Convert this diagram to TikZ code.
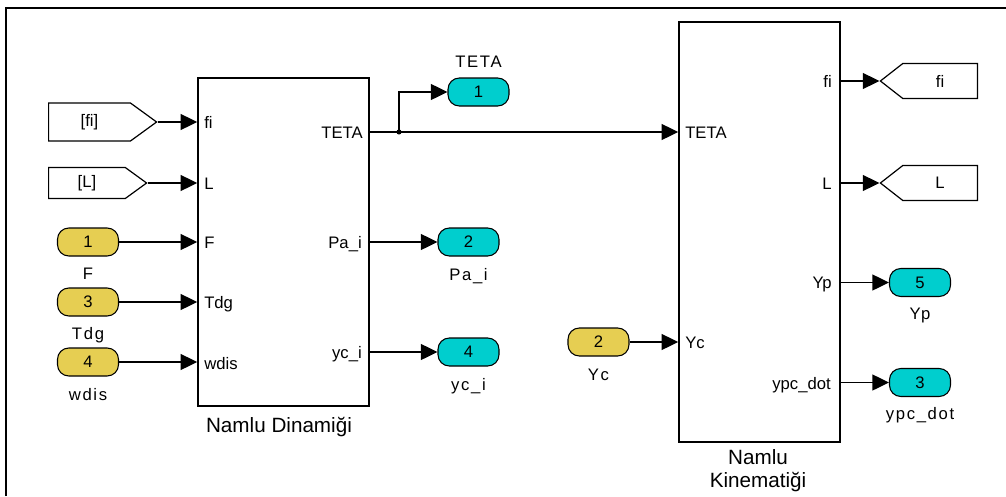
\documentclass[tikz,border=0pt]{standalone}
\usepackage{fontspec}
\setmainfont{Liberation Sans}
\usetikzlibrary{arrows.meta,shapes.symbols,calc}
\definecolor{inyellow}{RGB}{230,206,82}
\definecolor{outcyan}{RGB}{0,206,206}
\newcommand{\portfont}{\fontsize{12.5}{14}\selectfont}
\tikzset{
  blk/.style={draw, line width=1.2pt, inner sep=0pt},
  portlbl/.style={font=\portfont, inner sep=0pt},
  inport/.style={draw, line width=0.8pt, rounded corners=8.5pt, fill=inyellow,
    minimum width=45.75pt, minimum height=21pt, inner sep=0pt, font=\portfont},
  outport/.style={inport, fill=outcyan},
  fromtag/.style={draw, line width=0.9pt, shape=signal, signal to=east,
    signal pointer angle=72, inner sep=0pt, font=\portfont},
  gototag/.style={fromtag, signal to=west, signal pointer angle=76},
  wire/.style={line width=1.1pt, -{Triangle[length=12.5pt,width=12pt]}},
  tagname/.style={font=\portfont\addfontfeature{LetterSpace=10}, inner sep=0pt, anchor=base},
  title/.style={font=\fontsize{15.5}{17}\selectfont, inner sep=0pt, anchor=base},
}
\begin{document}
\begin{tikzpicture}[x=0.75pt, y=-0.75pt]
\useasboundingbox (0,0) rectangle (1006,496);
% frame
\draw[line width=1.8pt] (6,496) -- (6,8) -- (1006,8);

% subsystem blocks
\node[blk, minimum width=128.25pt, minimum height=246pt] (b1) at (283.5,242) {};
\node[blk, minimum width=120.75pt, minimum height=315pt] (b2) at (759.5,232) {};
\node[title] at (279,432) {Namlu Dinamiği};
\node[title] at (758,464) {Namlu};
\node[title] at (758,487) {Kinematiği};

% port names of the first block
\node[portlbl, anchor=base west] at (204,128) {fi};
\node[portlbl, anchor=base west] at (204,189) {L};
\node[portlbl, anchor=base west] at (204,248) {F};
\node[portlbl, anchor=base west] at (204,308) {Tdg};
\node[portlbl, anchor=base west] at (204,369) {wdis};
\node[portlbl, anchor=base east] at (363,138) {TETA};
\node[portlbl, anchor=base east] at (362,248) {Pa\_i};
\node[portlbl, anchor=base east] at (362,358) {yc\_i};

% port names of the second block
\node[portlbl, anchor=base west] at (685,138) {TETA};
\node[portlbl, anchor=base west] at (685,348) {Yc};
\node[portlbl, anchor=base east] at (832,87) {fi};
\node[portlbl, anchor=base east] at (832,189) {L};
\node[portlbl, anchor=base east] at (832,288) {Yp};
\node[portlbl, anchor=base east] at (831,389) {ypc\_dot};

% from / goto tags
\node[fromtag, anchor=west, minimum width=81pt, minimum height=28.5pt] (ffi) at (48,122) {[fi]};
\node[fromtag, anchor=west, minimum width=73.5pt, minimum height=23.25pt] (fL) at (48,183) {[L]};
\node[gototag, anchor=east, minimum width=72.75pt, minimum height=26.25pt] (gfi) at (978,81) {fi};
\node[gototag, anchor=east, minimum width=72.75pt, minimum height=26.25pt] (gL) at (978,183) {L};

% inports
\node[inport] (inF) at (88,242) {1};
\node[tagname] at (88,279) {F};
\node[inport] (inT) at (88,302) {3};
\node[tagname] at (88,339) {Tdg};
\node[inport] (inW) at (88,362) {4};
\node[tagname] at (88,400) {wdis};
\node[inport] (inY) at (598.5,342) {2};
\node[tagname] at (598.5,380) {Yc};

% outports
\node[outport] (oT) at (478.5,92) {1};
\node[tagname] at (478.5,67) {TETA};
\node[outport] (oP) at (468.5,242) {2};
\node[tagname] at (468.5,280) {Pa\_i};
\node[outport] (oY) at (468.5,352) {4};
\node[tagname] at (468.5,390) {yc\_i};
\node[outport] (oYp) at (920,282.5) {5};
\node[tagname] at (920,319) {Yp};
\node[outport] (oD) at (920,382.5) {3};
\node[tagname] at (920,419) {ypc\_dot};

% signals into the first block
\draw[wire] (ffi.east) -- (ffi.east -| b1.west);
\draw[wire] (fL.east) -- (fL.east -| b1.west);
\draw[wire] (inF.east) -- (inF.east -| b1.west);
\draw[wire] (inT.east) -- (inT.east -| b1.west);
\draw[wire] (inW.east) -- (inW.east -| b1.west);

% signals out of the first block
\coordinate (br) at (399,132);
\draw[wire] (br -| b1.east) -- (br -| b2.west);
\draw[wire] (br) |- (oT.west);
\fill (br) circle (1.9pt);
\draw[wire] (b1.east |- oP.west) -- (oP.west);
\draw[wire] (b1.east |- oY.west) -- (oY.west);

% second block
\draw[wire] (inY.east) -- (inY.east -| b2.west);
\draw[wire] (b2.east |- gfi.west) -- (gfi.west);
\draw[wire] (b2.east |- gL.west) -- (gL.west);
\draw[wire] (b2.east |- oYp.west) -- (oYp.west);
\draw[wire] (b2.east |- oD.west) -- (oD.west);
\end{tikzpicture}
\end{document}
